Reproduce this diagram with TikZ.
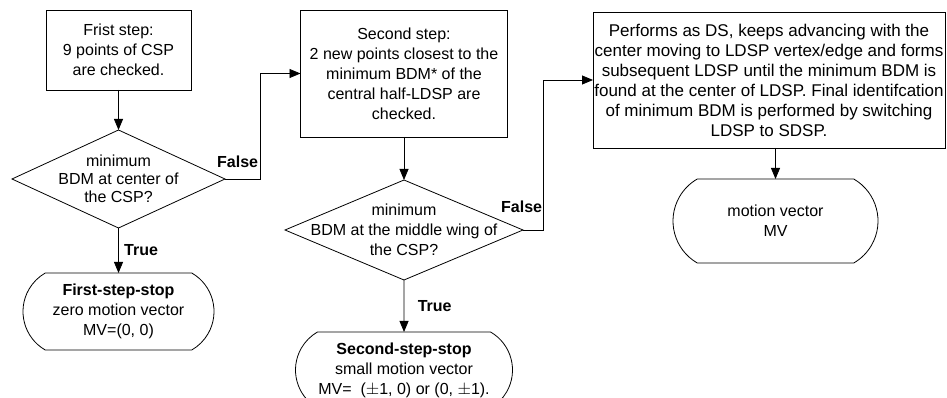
\documentclass[tikz,border=0pt]{standalone}
\usepackage{fontspec}
\setmainfont{Liberation Sans}
\usetikzlibrary{positioning}
\usetikzlibrary{shapes.geometric}
\usetikzlibrary{shapes.misc}
\usetikzlibrary{arrows.meta}

\begin{document}
\begin{tikzpicture}[
        x = 1pt, y = -1pt,
        line width = 0.8pt,
        every node/.style = {font=\fontsize{16}{20}\selectfont},
        box/.style = {
            draw,
            rectangle,
            align = center,
            inner sep = 0pt,
            outer sep = 0pt
        },
        decision/.style = {
            draw,
            diamond,
            inner sep = 0pt,
            outer sep = 0pt
        },
        stopbox/.style = {
            draw,
            rounded rectangle,
            rounded rectangle arc length = 120,
            align = center,
            inner sep = 0pt,
            outer sep = 0pt
        },
        answer/.style = {
            font=\fontsize{16}{20}\selectfont\bfseries
        },
        flow/.style = {
            -{Triangle[length=11pt, width=9pt]}
        }
    ]
    \useasboundingbox (0,0) rectangle (947,398);

    % first step
    \node[box, minimum width=145pt, minimum height=80pt] (step1) at (118.5,50)
        {Frist step:\\9 points of CSP\\are checked.};
    \node[decision, minimum width=213pt, minimum height=98pt, below=40pt of step1,
        label={[align=center, font=\fontsize{16}{18}\selectfont]center:minimum\\BDM at center of\\the CSP?}] (check1) {};
    \node[stopbox, minimum width=191pt, minimum height=77pt, below=45pt of check1] (stop1)
        {\textbf{First-step-stop}\\zero motion vector\\MV=(0, 0)};

    % second step
    \node[box, minimum width=207pt, minimum height=127pt] (step2) at (404,73.5)
        {Second step:\\2 new points closest to the\\minimum BDM* of the\\central half-LDSP are\\checked.};
    \node[decision, minimum width=238pt, minimum height=100pt, below=43pt of step2,
        label={[align=center]center:minimum\\BDM at the middle wing of\\the CSP?}] (check2) {};
    \node[stopbox, minimum width=217pt, minimum height=76pt, below=52pt of check2] (stop2)
        {\textbf{Second-step-stop}\\small motion vector\\MV=\ \ ($\pm$1, 0) or (0, $\pm$1).};

    % search as DS
    \node[box, minimum width=352pt, minimum height=136pt, font=\fontsize{17}{20}\selectfont] (step3) at (769,80)
        {Performs as DS, keeps advancing with the\\center moving to LDSP vertex/edge and forms\\subsequent LDSP until the minimum BDM is\\found at the center of LDSP. Final identifcation\\of minimum BDM is performed by switching\\LDSP to SDSP.};
    \node[stopbox, minimum width=205pt, minimum height=84pt, below=31pt of step3, xshift=6.5pt] (stop3)
        {motion vector\\MV};

    \draw[flow] (step1) -- (check1);
    \draw[flow] (check1) -- node[answer, right, xshift=2pt]{True} (stop1);
    \draw[flow] (check1.east) -- ++(35,0)
        node[answer, anchor=south east, inner sep=1.5pt, yshift=9pt]{False} |- (step2.west);

    \draw[flow] (step2) -- (check2);
    \draw[flow] (check2) -- node[answer, right, xshift=10pt]{True} (stop2);
    \draw[flow] (check2.east) -- ++(20,0)
        node[answer, anchor=south east, inner sep=0.5pt, yshift=16pt]{False} |- (step3.west);

    \draw[flow] (step3.south -| stop3.north) -- (stop3.north);
\end{tikzpicture}
\end{document}
